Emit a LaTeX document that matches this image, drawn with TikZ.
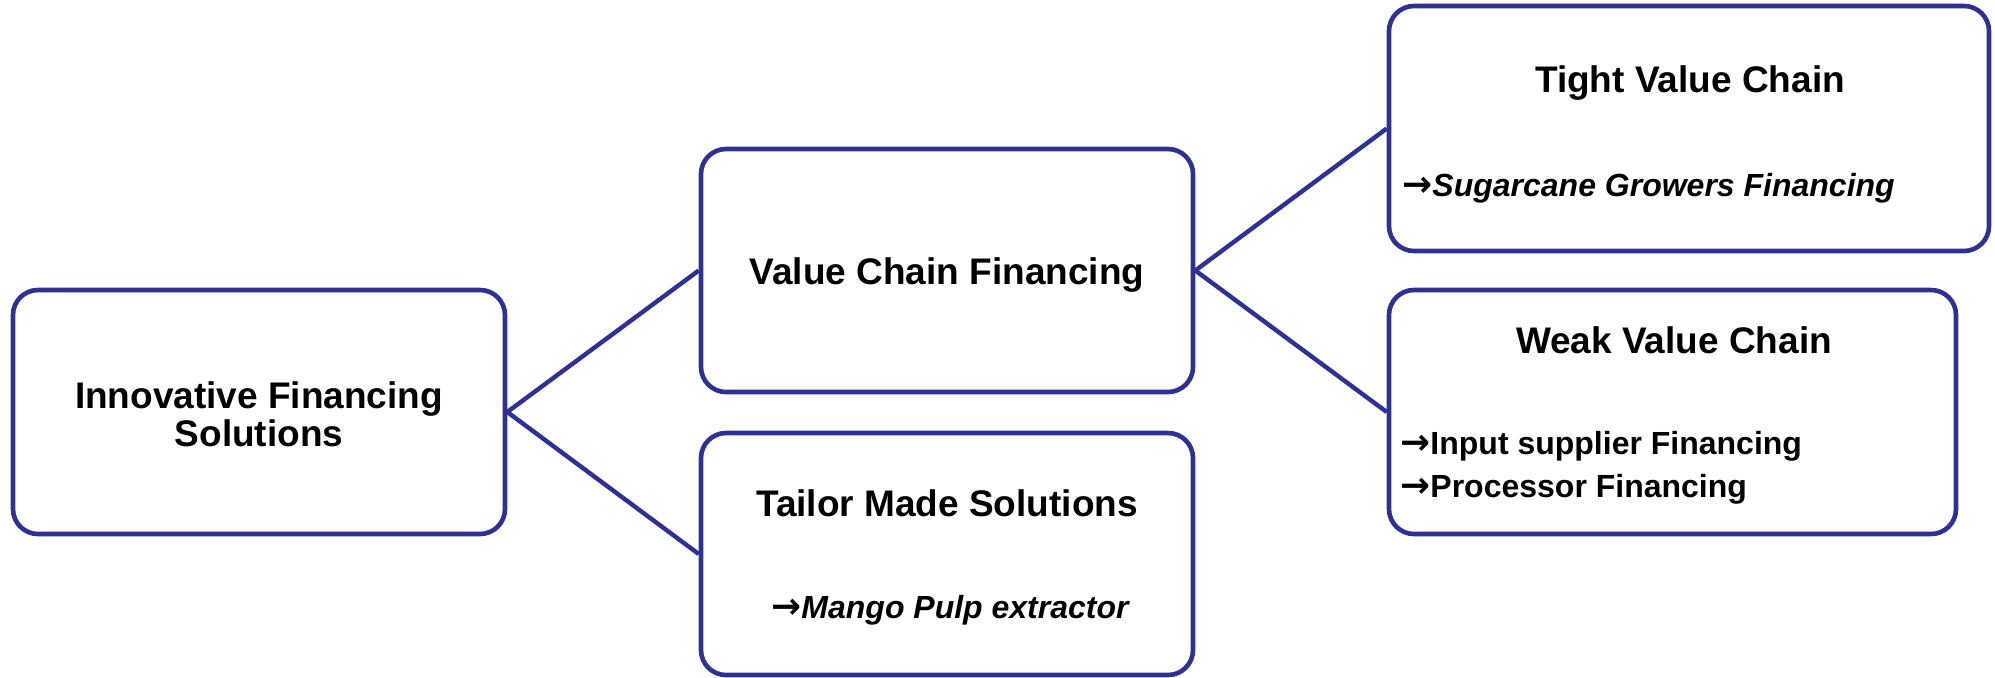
\documentclass[tikz,border=0pt]{standalone}
\usepackage{fontspec}
\usepackage{graphicx}
\setmainfont{Liberation Sans}
\newfontfamily\arrowfont{DejaVu Sans}
\newcommand{\rarr}{\scalebox{1.12}[1.12]{\arrowfont\bfseries →}}
\definecolor{navy}{RGB}{46,49,146}
\begin{document}
\begin{tikzpicture}[x=0.5pt,y=-0.5pt,
  box/.style={draw=navy, line width=2.3pt, rounded corners=12.5pt, rectangle, inner sep=0pt, fill=white},
  conn/.style={draw=navy, line width=2.2pt},
  titletext/.style={font=\fontsize{18.5}{19}\selectfont\bfseries, inner sep=0pt, anchor=base},
  subtext/.style={font=\fontsize{16}{21.5}\selectfont\bfseries, inner sep=0pt, anchor=base west},
  subit/.style={font=\fontsize{16}{21.5}\selectfont\bfseries\itshape, inner sep=0pt},
]
\useasboundingbox (0,0) rectangle (1995,677);
\fill[white] (0,0) rectangle (1995,677);

\node[box, minimum width=246pt, minimum height=122pt] (b1) at (259,412) {};
\node[box, minimum width=246pt, minimum height=121.5pt] (b2) at (947,270.5) {};
\node[box, minimum width=246pt, minimum height=121pt] (b3) at (947,554) {};
\node[box, minimum width=300pt, minimum height=122.5pt] (b4) at (1689,128.5) {};
\node[box, minimum width=283.5pt, minimum height=122pt] (b5) at (1672.5,412) {};

\draw[conn] (b1.east) -- (b2.west);
\draw[conn] (b1.east) -- (b3.west);
\draw[conn] (b2.east) -- (b4.west);
\draw[conn] (b2.east) -- (b5.west);

\node[titletext, align=center, anchor=center] (t1) at (259,414) {Innovative Financing\\Solutions};
\node[titletext] (t2) at (947,284) {Value Chain Financing};
\node[titletext] (t3) at (947,516) {Tailor Made Solutions};
\node[subit, anchor=base] (s3) at (950,618.5) {\rarr Mango Pulp extractor};
\node[titletext] (t4) at (1690,92) {Tight Value Chain};
\node[subit, anchor=base west] (s4) at (1402,196) {\rarr Sugarcane Growers Financing};
\node[titletext] (t5) at (1674,353) {Weak Value Chain};
\node[subtext] (s5a) at (1400,454.5) {\rarr Input supplier Financing};
\node[subtext] (s5b) at (1400,497.5) {\rarr Processor Financing};
\end{tikzpicture}
\end{document}
